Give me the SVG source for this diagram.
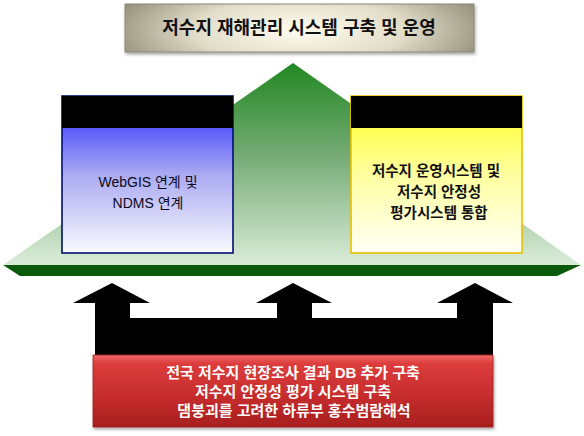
<svg xmlns="http://www.w3.org/2000/svg" width="584" height="436" viewBox="0 0 584 436">
<defs>
<radialGradient id="gTitle" cx="0.5" cy="0.55" r="0.6" gradientTransform="translate(0.5 0.55) scale(1 2.2) translate(-0.5 -0.55)">
<stop offset="0" stop-color="#fffdf0"/>
<stop offset="0.5" stop-color="#e2ddc9"/>
<stop offset="1" stop-color="#88836f"/>
</radialGradient>
<linearGradient id="gGreen" x1="0" y1="0" x2="0" y2="1">
<stop offset="0" stop-color="#218821"/>
<stop offset="0.45" stop-color="#74aa74"/>
<stop offset="1" stop-color="#dbecd9"/>
</linearGradient>
<linearGradient id="gBlue" x1="0" y1="0" x2="0" y2="1">
<stop offset="0" stop-color="#2424ff"/>
<stop offset="0.5" stop-color="#aaaaf2"/>
<stop offset="1" stop-color="#fafaff"/>
</linearGradient>
<linearGradient id="gYellow" x1="0" y1="0" x2="0" y2="1">
<stop offset="0" stop-color="#ffff1e"/>
<stop offset="0.5" stop-color="#ffffa0"/>
<stop offset="1" stop-color="#fffff6"/>
</linearGradient>
<linearGradient id="gRed" x1="0" y1="0" x2="0" y2="1">
<stop offset="0" stop-color="#f06a6a"/>
<stop offset="0.12" stop-color="#dc3c3c"/>
<stop offset="0.6" stop-color="#c42c2c"/>
<stop offset="1" stop-color="#a81e1e"/>
</linearGradient>
<filter id="shadow" x="-10%" y="-10%" width="120%" height="130%">
<feDropShadow dx="1" dy="2" stdDeviation="1.5" flood-color="#000" flood-opacity="0.35"/>
</filter>
</defs>
<style>
text{font-family:"Liberation Sans","Noto Sans CJK KR",sans-serif;text-anchor:middle}
.title{font-size:18px;font-weight:bold;fill:#111}
.lt{font-size:14px;fill:#0a0a20}
.rt{font-size:14.5px;font-weight:bold;fill:#111}
.bt{font-size:15px;font-weight:bold;fill:#fff}
</style>
<g id="base">
<polygon points="293,63 581,265 3,265" fill="url(#gGreen)"/>
<polygon points="3,265 581,265 557,276 20,276" fill="#0b5a0b"/>
</g>
<g id="title">
<rect x="125" y="4" width="349" height="48" fill="url(#gTitle)" stroke="#8a8678" stroke-width="1" filter="url(#shadow)"/>
<text class="title" x="299" y="34">저수지 재해관리 시스템 구축 및 운영</text>
</g>
<g id="left-box">
<rect x="62" y="96" width="171" height="157" fill="url(#gBlue)" stroke="#00106e" stroke-width="1.6"/>
<rect x="62" y="96" width="171" height="32" fill="#000"/>
<text class="lt" x="148" y="187">WebGIS 연계 및</text>
<text class="lt" x="148" y="208">NDMS 연계</text>
</g>
<g id="right-box">
<rect x="351" y="96" width="171" height="157" fill="url(#gYellow)" stroke="#e8c000" stroke-width="1.6"/>
<rect x="351" y="96" width="171" height="32" fill="#000"/>
<text class="rt" x="436" y="176">저수지 운영시스템 및</text>
<text class="rt" x="439" y="197">저수지 안정성</text>
<text class="rt" x="439" y="218">평가시스템 통합</text>
</g>
<g id="connectors">
<polygon fill="#000" points="95,356 95,303 73,303 112,283 150,303 130,303 130,318 277,318 277,303 256,303 293,283 332,303 312,303 312,318 457,318 457,303 437,303 475,283 513,303 493,303 493,356"/>
</g>
<g id="bottom-box">
<rect x="93" y="355" width="400" height="72" fill="url(#gRed)" stroke="#a02020" stroke-width="0.8" filter="url(#shadow)"/>
<text class="bt" x="293" y="378">전국 저수지 현장조사 결과 DB 추가 구축</text>
<text class="bt" x="293" y="397">저수지 안정성 평가 시스템 구축</text>
<text class="bt" x="294" y="416">댐붕괴를 고려한 하류부 홍수범람해석</text>
</g>
</svg>
